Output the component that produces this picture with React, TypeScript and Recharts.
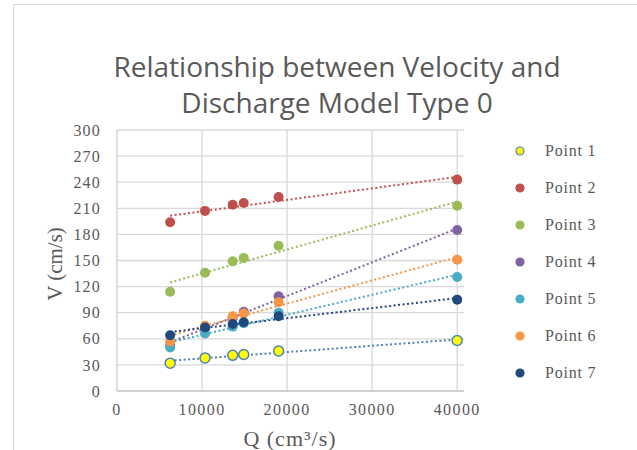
import { CartesianGrid, Legend, Scatter, ScatterChart, XAxis, YAxis } from "recharts"

// discharge Q (cm3/s) measured for each model run
const discharge = [6250, 10350, 13600, 14900, 19000, 40000]

// velocity V (cm/s) at each measuring point
const point1 = [32, 38, 41, 42, 46, 58]
const point2 = [194, 207, 214, 216, 223, 243]
const point3 = [114, 136, 149, 153, 167, 213]
const point4 = [53, 72, 84, 91, 109, 185]
const point5 = [50, 66, 74, 78, 90, 131]
const point6 = [57, 75, 86, 89, 102, 151]
const point7 = [64, 73, 77, 79, 86, 105]

const xTicks = [0, 10000, 20000, 30000, 40000]
const yTicks = [0, 30, 60, 90, 120, 150, 180, 210, 240, 270, 300]

const series = [
  { name: "Point 1", values: point1, fill: "#FFFF00", stroke: "#4F81BD", line: "#4F81BD" },
  { name: "Point 2", values: point2, fill: "#C0504D", stroke: "#C0504D", line: "#C0504D" },
  { name: "Point 3", values: point3, fill: "#9BBB59", stroke: "#9BBB59", line: "#9BBB59" },
  { name: "Point 4", values: point4, fill: "#8064A2", stroke: "#8064A2", line: "#8064A2" },
  { name: "Point 5", values: point5, fill: "#4BACC6", stroke: "#4BACC6", line: "#4BACC6" },
  { name: "Point 6", values: point6, fill: "#F79646", stroke: "#F79646", line: "#F79646" },
  { name: "Point 7", values: point7, fill: "#1F497D", stroke: "#1F497D", line: "#1F497D" },
]

const serif = "'Liberation Serif', 'Times New Roman', serif"
const grey = "#595959"

function LegendBox() {
  return (
    <div style={{ position: "absolute", left: 512, top: 132, fontFamily: serif, fontSize: 16, color: grey, letterSpacing: 0.8 }}>
      {series.map((s) => (
        <div key={s.name} style={{ display: "flex", alignItems: "center", height: 37 }}>
          <svg width={16} height={16} style={{ marginRight: 17 }}>
            <circle cx={8} cy={8} r={4} fill={s.fill} stroke={s.stroke} strokeWidth={1.2} />
          </svg>
          {s.name}
        </div>
      ))}
    </div>
  )
}

// axis titles drawn on their own layer
function AxisTitles() {
  return (
    <svg width={637} height={450} style={{ position: "absolute", left: 0, top: 0, pointerEvents: "none" }}>
      <text x={290} y={446} textAnchor="middle" fontFamily={serif} fontSize={22} letterSpacing={1} fill={grey}>
        Q (cm³/s)
      </text>
      <text
        x={0}
        y={0}
        transform="translate(62 264) rotate(-90)"
        textAnchor="middle"
        fontFamily={serif}
        fontSize={21}
        fill={grey}
      >
        V (cm/s)
      </text>
    </svg>
  )
}

export default function App() {
  return (
    <div style={{ position: "fixed", left: 0, top: 0, width: 637, height: 450, background: "#fff", overflow: "hidden" }}>
      {/* chart frame */}
      <div style={{ position: "absolute", left: 13, top: 4, width: 640, height: 460, border: "1px solid #d9d9d9" }} />
      <div
        style={{
          position: "absolute",
          left: 0,
          width: 674,
          top: 48,
          textAlign: "center",
          fontFamily: "'Open Sans', sans-serif",
          fontSize: 28,
          lineHeight: "36px",
          color: grey,
        }}
      >
        Relationship between Velocity and
        <br />
        Discharge Model Type 0
      </div>
      <ScatterChart width={637} height={450} margin={{ top: 130, right: 173, bottom: 29, left: 0 }}>
        <CartesianGrid stroke="#d9d9d9" strokeWidth={1.3} verticalValues={xTicks.slice(1)} />
        <XAxis
          type="number"
          dataKey="q"
          domain={[0, 40800]}
          ticks={xTicks}
          interval={0}
          height={30}
          tickLine={false}
          tickMargin={7}
          stroke="#bfbfbf"
          tick={{ fill: grey, fontFamily: serif, fontSize: 16, letterSpacing: 1.4 }}
        />
        <YAxis
          type="number"
          dataKey="v"
          domain={[0, 300]}
          ticks={yTicks}
          interval={0}
          width={117}
          tickLine={false}
          tickMargin={10}
          stroke="#bfbfbf"
          tick={{ fill: grey, fontFamily: serif, fontSize: 16, letterSpacing: 1.2 }}
        />
        {series.map((s) => (
          <Scatter
            key={s.name}
            name={s.name}
            data={discharge.map((q, i) => ({ q, v: s.values[i] }))}
            isAnimationActive={false}
            line={{ stroke: s.line, strokeWidth: 2, strokeDasharray: "2 2.5" }}
            lineType="fitting"
            shape={(p: any) => (
              <circle cx={p.cx} cy={p.cy} r={5} fill={s.fill} stroke={s.stroke} strokeWidth={s.name === "Point 1" ? 1.5 : 0} />
            )}
          />
        ))}
        <Legend content={() => null} />
      </ScatterChart>
      <AxisTitles />
      <LegendBox />
    </div>
  )
}
